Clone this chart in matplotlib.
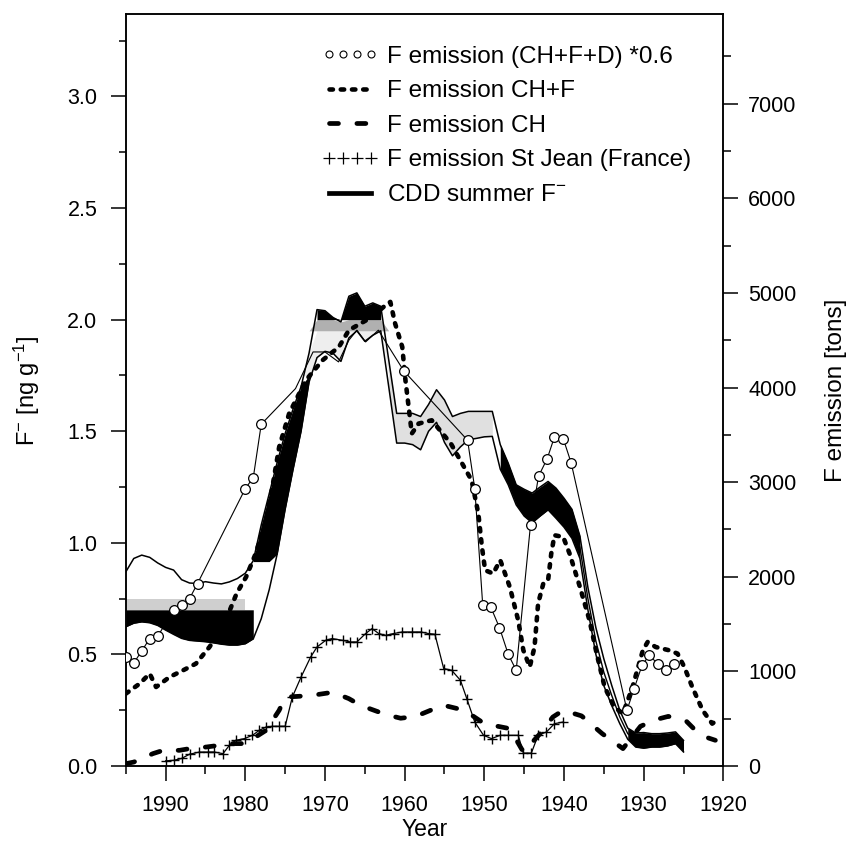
import numpy as np
import matplotlib.pyplot as plt
from matplotlib.lines import Line2D

plt.rcParams['font.family'] = ['Liberation Sans', 'DejaVu Sans']
plt.rcParams['mathtext.default'] = 'regular'
plt.rcParams['font.size'] = 15.5

# CDD summer F- band (ng/g): upper and lower envelope
band_years = np.array([1995, 1994, 1993, 1992, 1991, 1990, 1989, 1988, 1987, 1986, 1985, 1984,
                       1983, 1982, 1981, 1980, 1979, 1978, 1977, 1976, 1975, 1974, 1973, 1972,
                       1971, 1970, 1969, 1968, 1967, 1966, 1965, 1964, 1963, 1962, 1961, 1960,
                       1959, 1958, 1957, 1956, 1955, 1954, 1953, 1952, 1951, 1950, 1949, 1948,
                       1947, 1946, 1945, 1944, 1943, 1942, 1941, 1940, 1939, 1938, 1937, 1936,
                       1935, 1934, 1933, 1932, 1931, 1930, 1929, 1928, 1927, 1926, 1925])
band_hi = np.array([0.87, 0.93, 0.945, 0.935, 0.91, 0.89, 0.878, 0.835, 0.82, 0.818, 0.826, 0.82,
                    0.816, 0.825, 0.84, 0.864, 0.92, 1.08, 1.22, 1.36, 1.49, 1.60, 1.70, 1.85,
                    2.045, 2.04, 2.01, 1.99, 2.105, 2.12, 2.06, 2.075, 2.06, 1.82, 1.58, 1.58,
                    1.58, 1.566, 1.62, 1.686, 1.64, 1.566, 1.58, 1.589, 1.589, 1.589, 1.589, 1.44,
                    1.357, 1.26, 1.24, 1.223, 1.25, 1.275, 1.245, 1.20, 1.15, 1.03, 0.80, 0.62,
                    0.48, 0.36, 0.25, 0.17, 0.148, 0.15, 0.145, 0.145, 0.148, 0.153, 0.115])
band_lo = np.array([0.624, 0.64, 0.646, 0.642, 0.63, 0.609, 0.59, 0.572, 0.563, 0.56, 0.557, 0.552,
                    0.546, 0.542, 0.542, 0.548, 0.57, 0.66, 0.79, 0.95, 1.15, 1.33, 1.50, 1.72,
                    1.83, 1.858, 1.85, 1.813, 1.918, 1.95, 1.903, 1.93, 1.95, 1.70, 1.447, 1.447,
                    1.44, 1.417, 1.50, 1.54, 1.45, 1.39, 1.43, 1.462, 1.468, 1.475, 1.477, 1.33,
                    1.26, 1.17, 1.12, 1.09, 1.12, 1.148, 1.11, 1.07, 1.02, 0.93, 0.70, 0.50,
                    0.36, 0.27, 0.19, 0.12, 0.085, 0.08, 0.085, 0.085, 0.09, 0.10, 0.063])

# F emission (CH+F+D)*0.6 [tons]
emis_years = [1995, 1994, 1993, 1992, 1991, 1989, 1988, 1987, 1986, 1980, 1979, 1978,
              1973.7, 1971.5, 1970, 1968.3, 1967, 1966, 1964.9, 1963.3,
              1960.1, 1952.1, 1951.2, 1950.2, 1949.2, 1948.1, 1947.0, 1946.0, 1944.2,
              1943.2, 1942.1, 1941.2, 1940.1, 1939.1, 1932.1, 1931.2, 1930.2, 1929.3,
              1928.25, 1927.2, 1926.2]
emis_tons = [1149, 1089, 1216, 1347, 1371, 1646, 1706, 1770, 1928, 2932, 3048, 3612,
             3989, 4376, 4376, 4271, 4500, 4606, 4482, 4606,
             4175, 3443, 2932, 1699, 1681, 1463, 1181, 1012, 2552,
             3062, 3250, 3478, 3461, 3203, 589, 818, 1065, 1170,
             1082, 1019, 1082]
emis_no_marker = [1973.7, 1971.5, 1970, 1968.3, 1967, 1966, 1964.9, 1963.3]

# F emission CH+F [tons]
chf_years = [1995, 1993.25, 1992, 1991.2, 1989.5, 1987.8, 1986.2, 1984.5, 1982.8, 1981.1,
             1979.9, 1978.7, 1977.4, 1976.6, 1975.75, 1974.5, 1972.4, 1970.3, 1968.25, 1967,
             1964.1, 1962.4, 1961.8, 1961.2, 1960.3, 1959.9, 1959.5, 1959.1, 1958.25, 1956.6,
             1954.2, 1953.25, 1951.6, 1950.75, 1950.3, 1949.9, 1948.9, 1948.0, 1946.8, 1945.75,
             1945.1, 1944.3, 1943.7, 1943.25, 1942.6, 1942, 1941.6, 1941.2, 1940.1, 1939.3,
             1938.0, 1936.8, 1935.9, 1934.9, 1933.7, 1932.6, 1931.4, 1930.1, 1929.5, 1928.5,
             1926.8, 1925.75, 1924.9, 1923.9, 1922.6, 1921.4, 1920.5]
chf_tons = [765, 871, 977, 835, 941, 1012, 1082, 1258, 1469, 1822,
            1998, 2245, 2597, 2949, 3372, 3725, 4077, 4289, 4429, 4606,
            4746, 4870, 4905, 4677, 4429, 4077, 3795, 3514, 3619, 3654,
            3408, 3266, 3020, 2668, 2315, 2069, 2034, 2175, 1892, 1540,
            1223, 1047, 1258, 1717, 1928, 1963, 2245, 2439, 2421, 2245,
            1892, 1540, 1188, 835, 624, 554, 835, 1223, 1311, 1258,
            1223, 1188, 1047, 835, 589, 448, 501]

# F emission CH [tons]
ch_years = [1995, 1994, 1991.6, 1990.3, 1988.25, 1987, 1984.9, 1983.25, 1981.6, 1980,
            1977.4, 1975.75, 1975, 1973.25, 1971.6, 1969, 1967, 1965.5, 1962.4, 1960.5,
            1958.6, 1955.75, 1955.1, 1952.5, 1950, 1946.8, 1945.1, 1943, 1941.4, 1940.1,
            1937.8, 1935.2, 1932.6, 1930.4, 1928.5, 1926.9, 1924.6, 1923.5, 1922, 1921]
ch_tons = [25, 42, 131, 166, 166, 184, 201, 219, 237, 237,
           377, 589, 729, 737, 747, 780, 712, 640, 545, 505,
           525, 624, 642, 589, 448, 395, 148, 342, 518, 589,
           530, 342, 184, 420, 490, 525, 470, 377, 300, 272]

# F emission St Jean (France) [tons]
sj_years = [1990, 1989, 1988, 1987, 1985.75, 1984.7, 1983.9, 1982.8, 1982, 1981.2,
            1980.1, 1979.1, 1978.25, 1977.4, 1976.6, 1975.75, 1975, 1974.1, 1973, 1971.8,
            1971, 1969.9, 1969.1, 1967.8, 1966.8, 1966, 1964.9, 1964.1, 1963.25, 1962.4,
            1961.4, 1960.3, 1959.1, 1958, 1957, 1956.2, 1955.1, 1954.1, 1953, 1952.2,
            1951.2, 1950.1, 1949.1, 1948, 1947, 1945.75, 1945.1, 1944.1, 1943.25, 1942.2,
            1941.2, 1940.1]
sj_tons = [55, 60, 80, 125, 148, 148, 148, 131, 219, 272,
           290, 325, 377, 412, 420, 420, 420, 729, 941, 1152,
           1258, 1329, 1347, 1329, 1311, 1311, 1400, 1452, 1400, 1381,
           1400, 1417, 1417, 1417, 1400, 1392, 1030, 1012, 906, 712,
           465, 325, 290, 325, 325, 325, 137, 137, 325, 360,
           448, 465]

dot_ls = (0, (0.75, 1.7))
dash_ls = (0, (1.9, 3.9))

fig = plt.figure(figsize=(8.5, 8.43), dpi=100)
ax = fig.add_axes([0.148, 0.0913, 0.703, 0.8917])
ax2 = ax.twinx()

yr = band_years
# band: white base, stippled parts, black core
ax.fill_between(yr, band_lo, band_hi, color='white', lw=0, zorder=1)
stip = '#cfcfcf'
m = yr >= 1980
ax.fill_between(yr, np.clip(band_lo, 0.70, 0.75), np.clip(band_hi, 0.70, 0.75), where=m,
                color=stip, lw=0, zorder=1.2)
m = (yr >= 1962) & (yr <= 1973)
ax.fill_between(yr, np.clip(band_lo, 1.75, 1.95), np.clip(band_hi, 1.75, 1.95), where=m,
                color='#eeeeee', lw=0, zorder=1.2)
ax.fill_between(yr, np.clip(band_lo, 1.95, 2.0), np.clip(band_hi, 1.95, 2.0), where=m,
                color='#b0b0b0', lw=0, zorder=1.2)
m = (yr >= 1949) & (yr <= 1962)
ax.fill_between(yr, band_lo, band_hi, where=m, color='#e0e0e0', lw=0, zorder=1.2)

m = yr >= 1979
ax.fill_between(yr, band_lo, np.minimum(band_hi, 0.70), where=m, color='black', lw=0, zorder=1.5)
m = (yr >= 1972) & (yr <= 1979)
ax.fill_between(yr, np.clip(band_lo, 0.916, 1.75), np.clip(band_hi, 0.916, 1.75), where=m,
                color='black', lw=0, zorder=1.5)
m = (yr >= 1963) & (yr <= 1971)
ax.fill_between(yr, np.clip(band_lo, 2.0, 3.0), np.clip(band_hi, 2.0, 3.0), where=m,
                color='black', lw=0, zorder=1.5)
m = (yr <= 1948) & (yr >= 1938)
ax.fill_between(yr, band_lo, band_hi, where=m, color='black', lw=0, zorder=1.5)
m = yr <= 1932
ax.fill_between(yr, band_lo, band_hi, where=m, color='black', lw=0, zorder=1.5)

ax.plot(yr, band_hi, color='black', lw=1.1, zorder=2)
ax.plot(yr, band_lo, color='black', lw=1.1, zorder=2)
m = (yr <= 1939) & (yr >= 1931)
ax.plot(yr[m], (band_hi[m] + band_lo[m]) / 2, color='black', lw=1.0, zorder=2)

# emissions on right axis
ax2.plot(ch_years, ch_tons, color='black', lw=3.4, linestyle=dash_ls,
         dash_capstyle='round', zorder=3)
ax2.plot(sj_years, sj_tons, color='black', lw=0.9, marker='+', ms=7.5, mew=1.0, zorder=3)
ax2.plot(chf_years, chf_tons, color='black', lw=3.3, linestyle=dot_ls,
         dash_capstyle='round', zorder=4)
idx = [i for i, y in enumerate(emis_years) if y not in emis_no_marker]
ax2.plot(emis_years, emis_tons, color='black', lw=0.8, marker='o', ms=7, mfc='white',
         mec='black', mew=0.9, markevery=idx, zorder=5)

ax.set_xlim(1995, 1920)
ax.set_ylim(0, 3.368)
ax2.set_ylim(0, 7944)

ax.set_xticks(np.arange(1990, 1919, -10))
ax.set_xticks(np.arange(1995, 1919, -10), minor=True)
ax.set_yticks(np.arange(0, 3.01, 0.5))
ax.set_yticks(np.arange(0.25, 3.3, 0.5), minor=True)
ax.set_yticklabels(['%.1f' % v for v in np.arange(0, 3.01, 0.5)])
ax2.set_yticks(np.arange(0, 7001, 1000))
ax2.set_yticks(np.arange(500, 7600, 1000), minor=True)

ax.tick_params(axis='x', which='major', direction='out', length=11, width=1.1, pad=10)
ax.tick_params(axis='x', which='minor', direction='out', length=5.5, width=1.1)
ax.tick_params(axis='y', which='major', direction='out', length=11, width=1.1, pad=9.5)
ax.tick_params(axis='y', which='minor', direction='out', length=5, width=1.1)
ax2.tick_params(axis='y', which='major', direction='out', length=11, width=1.1, pad=7)
ax2.tick_params(axis='y', which='minor', direction='out', length=5.5, width=1.1)
for a in (ax, ax2):
    for s in a.spines.values():
        s.set_linewidth(1.1)

ax.set_xlabel('Year', fontsize=16.5)
ax.xaxis.set_label_coords(0.5, -0.069)
ax.set_ylabel(r'F$^{-}$ [ng g$^{-1}$]', fontsize=17)
ax.yaxis.set_label_coords(-0.140, 0.5)
ax2.set_ylabel('F emission [tons]', fontsize=17.5)
ax2.yaxis.set_label_coords(1.17, 0.5)

handles = [
    Line2D([], [], color='black', marker='o', ms=5, mfc='white', mew=0.8, ls='none'),
    Line2D([], [], color='black', lw=3.3, ls=dot_ls, dash_capstyle='round'),
    Line2D([], [], color='black', lw=3.4, ls=dash_ls, dash_capstyle='round'),
    Line2D([], [], color='black', marker='+', ms=8, mew=0.9, ls='none'),
    Line2D([], [], color='black', lw=3.4),
]
labels = ['F emission (CH+F+D) *0.6', 'F emission CH+F', 'F emission CH',
          'F emission St Jean (France)', r'CDD summer F$^{-}$']
fig.legend(handles, labels, loc='upper left', bbox_to_anchor=(0.379, 0.946),
           frameon=False, fontsize=17.5, numpoints=4, handlelength=2.3,
           handletextpad=0.37, labelspacing=0.52, borderpad=0, borderaxespad=0)

fig.savefig('out.png', dpi=100)
